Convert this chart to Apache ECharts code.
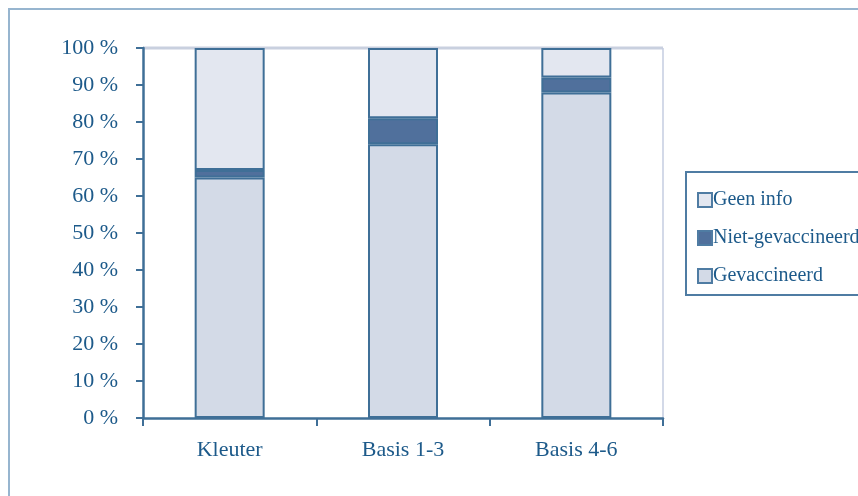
<!DOCTYPE html>
<html>
<head>
<meta charset="utf-8">
<script src="https://cdn.jsdelivr.net/npm/echarts@6/dist/echarts.min.js"></script>
<style>
  html, body { margin: 0; padding: 0; background: #ffffff; }
  #chart { width: 858px; height: 496px; }
</style>
</head>
<body>
<div id="chart"></div>
<script>
// Vaccination status per school group (percent of pupils)
const categories = ['Kleuter', 'Basis 1-3', 'Basis 4-6'];
const gevaccineerd = [65, 74, 88];
const nietGevaccineerd = [2, 7, 4];
const geenInfo = [33, 19, 8];
const yTicks = [0, 10, 20, 30, 40, 50, 60, 70, 80, 90, 100];

const textColor = '#1d5a8a';
const edgeColor = '#3f6f97';
const font = 'Liberation Serif';

const chart = echarts.init(document.getElementById('chart'), null, { renderer: 'canvas' });

function barSeries(name, data, color) {
  return {
    name: name,
    type: 'bar',
    stack: 'total',
    data: data,
    barWidth: 70,
    itemStyle: { color: color, borderColor: edgeColor, borderWidth: 2 },
    emphasis: { disabled: true }
  };
}

chart.setOption({
  animation: false,
  backgroundColor: '#ffffff',
  textStyle: { fontFamily: font },
  graphic: [
    { type: 'rect', silent: true, z: -1,
      shape: { x: 9, y: 9, width: 900, height: 600 },
      style: { fill: 'none', stroke: '#97b5cf', lineWidth: 2 } },
    // plot area frame: top and right edges
    { type: 'line', silent: true,
      shape: { x1: 143, y1: 48, x2: 663, y2: 48 },
      style: { stroke: '#c9d0df', lineWidth: 3 } },
    { type: 'line', silent: true,
      shape: { x1: 663, y1: 48, x2: 663, y2: 418 },
      style: { stroke: '#c4cde0', lineWidth: 1.5 } },
    // legend box
    { type: 'rect', silent: true,
      shape: { x: 686, y: 172, width: 220, height: 123 },
      style: { fill: '#ffffff', stroke: '#4f7ca3', lineWidth: 2 } }
  ],
  legend: {
    orient: 'vertical',
    left: 697,
    top: 190,
    padding: 0,
    itemWidth: 14,
    itemHeight: 14,
    itemGap: 18,
    icon: 'rect',
    z: 10,
    data: ['Geen info', 'Niet-gevaccineerd', 'Gevaccineerd'],
    textStyle: { fontFamily: font, fontSize: 20, color: textColor, padding: [0, 0, 0, -4] },
    itemStyle: { borderColor: '#4f7ca3', borderWidth: 2 }
  },
  grid: { left: 143, right: 195, top: 48, bottom: 78, containLabel: false },
  xAxis: {
    type: 'category',
    data: categories,
    axisLine: { lineStyle: { color: edgeColor, width: 2.5 } },
    axisTick: { show: true, length: 8, lineStyle: { color: edgeColor, width: 2 } },
    axisLabel: { fontFamily: font, fontSize: 22, color: textColor, margin: 21 },
    splitLine: { show: false }
  },
  yAxis: {
    type: 'value',
    min: yTicks[0],
    max: yTicks[yTicks.length - 1],
    interval: 10,
    axisLine: { show: true, lineStyle: { color: edgeColor, width: 2.5 } },
    axisTick: { show: true, length: 7, lineStyle: { color: edgeColor, width: 2 } },
    axisLabel: { fontFamily: font, fontSize: 22, color: textColor, margin: 25, formatter: '{value} %' },
    splitLine: { show: false }
  },
  series: [
    barSeries('Gevaccineerd', gevaccineerd, '#d3dae7'),
    barSeries('Niet-gevaccineerd', nietGevaccineerd, '#50709c'),
    barSeries('Geen info', geenInfo, '#e3e7f0')
  ]
});
</script>
</body>
</html>
